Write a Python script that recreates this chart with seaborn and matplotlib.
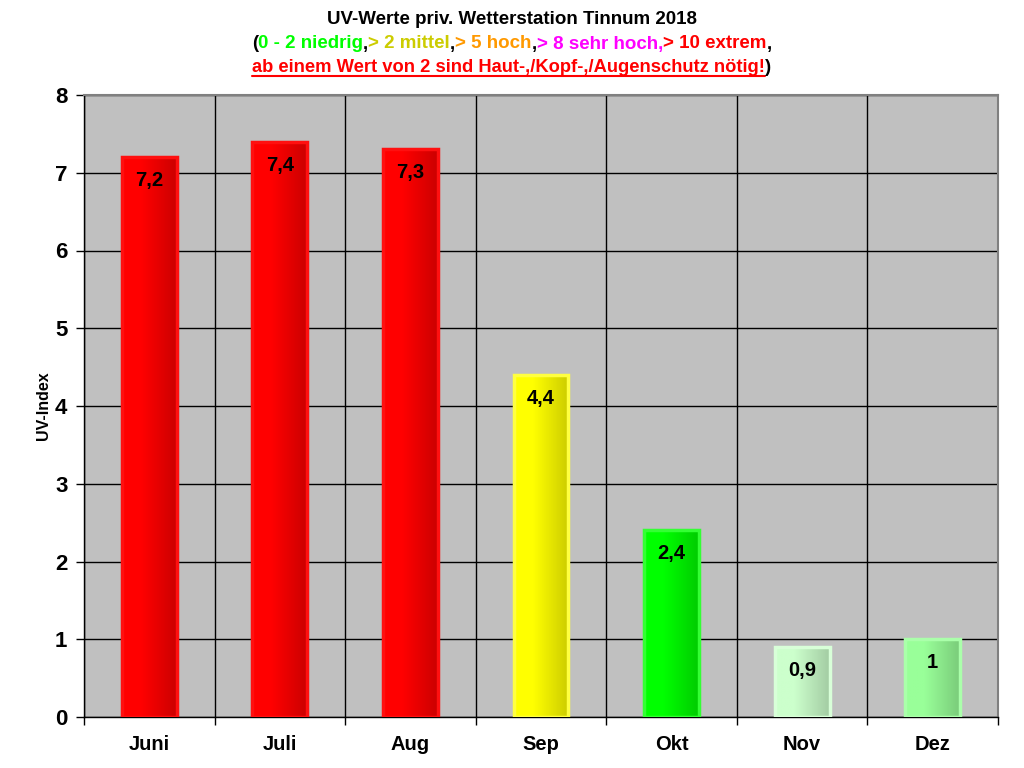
import numpy as np
import pandas as pd
import matplotlib
matplotlib.use("Agg")
import matplotlib.pyplot as plt
import seaborn as sns
from matplotlib.offsetbox import TextArea, HPacker, AnchoredOffsetbox
from matplotlib.colors import to_rgb
from matplotlib.ticker import FixedLocator
from matplotlib.patches import Rectangle

months = ["Juni", "Juli", "Aug", "Sep", "Okt", "Nov", "Dez"]
uv_values = [7.2, 7.4, 7.3, 4.4, 2.4, 0.9, 1.0]
value_labels = ["7,2", "7,4", "7,3", "4,4", "2,4", "0,9", "1"]
bar_colors = ["#FF0000", "#FF0000", "#FF0000", "#FFFF00", "#00FF00", "#CCFFCC", "#99FF99"]
edge_colors = ["#FF1010", "#FF1010", "#FF1010", "#FFFF40", "#33FF33", "#D8FFD8", "#AAFFAA"]
y_ticks = [0, 1, 2, 3, 4, 5, 6, 7, 8]

sns.set_theme(style="white")
plt.rcParams["font.family"] = ["Liberation Sans", "DejaVu Sans"]
plt.rcParams["font.weight"] = "bold"
plt.rcParams["text.color"] = "black"
plt.rcParams["axes.labelcolor"] = "black"
plt.rcParams["xtick.color"] = "black"
plt.rcParams["ytick.color"] = "black"

fig = plt.figure(figsize=(10.24, 7.68), dpi=100)
ax = fig.add_axes([84 / 1024, 1 - 717 / 768, (998 - 84) / 1024, (717 - 95) / 768])
ax.set_facecolor("#C0C0C0")

df = pd.DataFrame({"Monat": months, "UV": uv_values})
sns.barplot(data=df, x="Monat", y="UV", hue="Monat", palette=bar_colors,
            width=0.42, legend=False, ax=ax, saturation=1, zorder=3)

ax.set_xlim(-0.5, len(months) - 0.5)
ax.set_ylim(0, 8)
ax.set_yticks(y_ticks)
ax.set_yticklabels([str(v) for v in y_ticks], fontsize=16, fontweight="bold", color="black")
ax.set_xticks(range(len(months)))
ax.set_xticklabels(months, fontsize=14.5, fontweight="bold", color="black")
ax.xaxis.set_minor_locator(FixedLocator(np.arange(-0.5, len(months), 1.0)))
ax.tick_params(axis="x", which="major", length=0, pad=13)
ax.tick_params(axis="x", which="minor", length=6, width=1.0, color="black", direction="out", bottom=True)
ax.tick_params(axis="y", which="major", length=6, width=1.0, color="black", direction="out", left=True, pad=6)
ax.grid(False)
ax.yaxis.grid(True, color="black", linewidth=1.0, zorder=1)
ax.xaxis.grid(True, which="minor", color="black", linewidth=1.0, zorder=1)
ax.set_axisbelow(True)
ax.set_xlabel("")
ax.set_ylabel("UV-Index", fontsize=11.5, fontweight="bold", labelpad=3, color="black")

for s in ["left", "bottom"]:
    ax.spines[s].set_color("black")
    ax.spines[s].set_linewidth(1.0)
for s in ["top", "right"]:
    ax.spines[s].set_color("#808080")
    ax.spines[s].set_linewidth(1.5)

# gradient shading and edge for bars
grad = np.linspace(0, 1, 64)
for patch, col, edge, lab in zip(ax.patches, bar_colors, edge_colors, value_labels):
    r, g, b = to_rgb(col)
    x0, y0 = patch.get_x(), patch.get_y()
    w, h = patch.get_width(), patch.get_height()
    base = np.array([r, g, b])
    dark = base * 0.8
    fac = np.clip((grad - 0.35) / 0.65, 0, 1)[:, None]
    img = (base[None, :] * (1 - fac) + dark[None, :] * fac)[None, :, :]
    im = ax.imshow(img, extent=[x0, x0 + w, y0, y0 + h], aspect="auto", zorder=3.5,
                   interpolation="bilinear")
    im.set_clip_path(patch)
    patch.set_edgecolor(edge)
    patch.set_linewidth(2)
    ax.add_patch(Rectangle((x0, y0), w, h, fill=False, edgecolor=edge, linewidth=2.5, zorder=4))
    ax.annotate(lab, (x0 + w / 2, y0 + h), xytext=(0, -10), textcoords="offset points",
                ha="center", va="top", fontsize=14.5, fontweight="bold", color="black", zorder=5)

# Title lines
fs = 13.5
fig.text(0.5, 1 - 20 / 768, "UV-Werte priv. Wetterstation Tinnum 2018", ha="center", va="center",
         fontsize=fs, fontweight="bold", color="black")

line2 = [("(", "black"), ("0 - 2 niedrig", "#00FF00"), (",", "black"), ("> 2 mittel", "#CCCC00"),
         (",", "black"), ("> 5 hoch", "#FF9900"), (",", "black"), ("> 8 sehr hoch,", "#FF00FF"),
         ("> 10 extrem", "#FF0000"), (",", "black")]
boxes = [TextArea(t, textprops=dict(color=c, fontsize=fs, fontweight="bold")) for t, c in line2]
pack = HPacker(children=boxes, align="baseline", pad=0, sep=0)
ab = AnchoredOffsetbox(loc="center", child=pack, bbox_to_anchor=(0.5, 1 - 44 / 768),
                       bbox_transform=fig.transFigure, frameon=False, pad=0, borderpad=0)
fig.add_artist(ab)

line3 = [("ab einem Wert von 2 sind Haut-,/Kopf-,/Augenschutz nötig!", "#FF0000"), (")", "black")]
boxes3 = [TextArea(t, textprops=dict(color=c, fontsize=13.2, fontweight="bold")) for t, c in line3]
pack3 = HPacker(children=boxes3, align="baseline", pad=0, sep=0)
ab3 = AnchoredOffsetbox(loc="center", child=pack3, bbox_to_anchor=(0.5, 1 - 68 / 768),
                        bbox_transform=fig.transFigure, frameon=False, pad=0, borderpad=0)
fig.add_artist(ab3)

fig.canvas.draw()
renderer = fig.canvas.get_renderer()
bb = boxes3[0].get_window_extent(renderer)
inv = fig.transFigure.inverted()
(xa, ya) = inv.transform((bb.x0, bb.y0 + 1))
(xb, _) = inv.transform((bb.x1, bb.y0))
fig.add_artist(plt.Line2D([xa, xb], [ya, ya], transform=fig.transFigure, color="#FF0000", linewidth=1.5))

fig.savefig("out.png", dpi=100)
